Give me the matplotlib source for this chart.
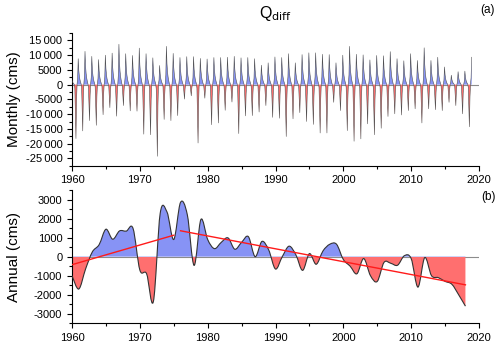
import numpy as np
import matplotlib
matplotlib.use("Agg")
import matplotlib.pyplot as plt
from matplotlib.path import Path
from matplotlib.patches import PathPatch, Rectangle

plt.rcParams["font.family"] = ["Liberation Sans", "DejaVu Sans"]
plt.rcParams["axes.unicode_minus"] = False

years = np.arange(1960, 2019)

# monthly: yearly high-flow peak (Dec) and low-flow trough (Aug)
peak_pos = [8800, 11300, 9600, 8500, 10000, 10700, 13700, 10500, 9900, 12400,
            10500, 9100, 6500, 13000, 10600, 9200, 9500, 9500, 8900, 8700,
            9200, 9200, 9300, 9600, 9100, 9200, 8800, 6600, 7400, 9400,
            9200, 10500, 7400, 10200, 10800, 10800, 10300, 10200, 7400, 10000,
            13000, 10300, 10100, 8400, 9900, 9800, 11200, 8800, 8100, 10500,
            8200, 12500, 8200, 9300, 6000, 3200, 4400, 4600, 9300]
peak_neg = [-18300, -15700, -12200, -13800, -10200, -7800, -10700, -7100, -8900, -9000,
            -16800, -17000, -24300, -11800, -12200, -10500, -4900, -3800, -19800, -4600,
            -13600, -13000, -8700, -5900, -16600, -10600, -10500, -9300, -7100, -11100,
            -11400, -17600, -11600, -9500, -12500, -13500, -16400, -16400, -6000, -8800,
            -15600, -19200, -18400, -13300, -17000, -14800, -10800, -9900, -10300, -8800,
            -8200, -13000, -8200, -8500, -8800, -6000, -7100, -9900, -14300]
# seasonal shape of one year (Jan..Dec), fraction of the peak / trough
decay_shape = [0.55, 0.33, 0.2, 0.11, 0.04]          # Jan-May, after previous Dec peak
low_shape = [0.06, 0.5, 1.0, 0.3]                    # Jun-Sep, of the trough
rise_shape = [0.03, 0.25, 1.0]                       # Oct-Dec

# annual values, panel (b)
annual = [-1000, -1700, -650, 250, 630, 1440, 915, 1350, 1340, 1480,
          -700, -900, -2350, 2270, 2350, 900, 2850, 2200, -460, 1950,
          900, 420, 750, 985, 390, 750, 1050, 0, 800, 350,
          -650, 0, 550, 100, -720, 160, -400, 300, 650, 650,
          -150, -500, -900, -100, -1000, -1300, -300, -350, -450, 50,
          -100, -1600, -50, -1000, -1100, -1300, -1450, -2000, -2600]

# build monthly series
t, q = [], []
for i, yr in enumerate(years):
    prev = peak_pos[i - 1] if i > 0 else peak_pos[0] * 0.3
    vals = [prev * s for s in decay_shape] + [peak_neg[i] * s for s in low_shape] \
        + [peak_pos[i] * s for s in rise_shape]
    for m, v in enumerate(vals):
        t.append(yr + m / 12)
        q.append(v)
t = np.array(t)
q = np.array(q)

blue = "#8793f5"
red = "#ff6f6f"

fig = plt.figure(figsize=(5, 3.46), dpi=100)
ax1 = fig.add_axes([0.144, 0.521, 0.814, 0.3835])
ax2 = fig.add_axes([0.144, 0.0656, 0.814, 0.3853])

ax1.axhline(0, color="#8c8c8c", lw=0.8, zorder=1)
ax1.fill_between(t, q, 0, where=q >= 0, interpolate=True, color=blue, lw=0, zorder=2)
ax1.fill_between(t, q, 0, where=q <= 0, interpolate=True, color=red, lw=0, zorder=2)
ax1.plot(t, q, color="#505050", lw=0.4, zorder=3)
ax1.set_ylim(-27500, 17500)
ax1.set_yticks(np.arange(-25000, 15001, 5000))
ax1.set_yticks(np.arange(-27500, 17501, 2500), minor=True)
ax1.set_yticklabels([("%d" % v if abs(v) < 10000 else
                      ("-" if v < 0 else "") + "%d\u2009%03d" % (abs(v) // 1000, abs(v) % 1000))
                     for v in np.arange(-25000, 15001, 5000)])
ax1.set_ylabel("Monthly (cms)", fontsize=11)

# panel (b): smooth curve through the annual values
x = years.astype(float)
y = np.array(annual, dtype=float)
verts = [(x[0], y[0])]
codes = [Path.MOVETO]
n = len(x)
for i in range(n - 1):
    p0 = max(i - 1, 0)
    p3 = min(i + 2, n - 1)
    c1 = (x[i] + (x[i + 1] - x[p0]) / 6, y[i] + (y[i + 1] - y[p0]) / 6)
    c2 = (x[i + 1] - (x[p3] - x[i]) / 6, y[i + 1] - (y[p3] - y[i]) / 6)
    verts += [c1, c2, (x[i + 1], y[i + 1])]
    codes += [Path.CURVE4] * 3
curve = Path(verts, codes)
area = Path(verts + [(x[-1], 0), (x[0], 0), (x[0], y[0])],
            codes + [Path.LINETO, Path.LINETO, Path.CLOSEPOLY])

ax2.axhline(0, color="#8c8c8c", lw=0.8, zorder=1)
for col, rect in [(blue, Rectangle((1950, 0), 80, 5000)),
                  (red, Rectangle((1950, -5000), 80, 5000))]:
    ax2.add_patch(rect)
    rect.set_visible(False)
    patch = PathPatch(area, facecolor=col, edgecolor="none", zorder=2)
    ax2.add_patch(patch)
    patch.set_clip_path(rect)
ax2.add_patch(PathPatch(curve, facecolor="none", edgecolor="#333333", lw=0.8, zorder=3))

# linear trends of the two periods
for lo, hi in [(1960, 1975), (1976, 2018)]:
    sel = (years >= lo) & (years <= hi)
    k, b = np.polyfit(years[sel], y[sel], 1)
    ax2.plot([lo, hi], [k * lo + b, k * hi + b], color="#ff1a1a", lw=1.0, zorder=4)

ax2.set_ylim(-3500, 3500)
ax2.set_yticks(np.arange(-3000, 3001, 1000))
ax2.set_yticks(np.arange(-3500, 3501, 500), minor=True)
ax2.set_ylabel("Annual (cms)", fontsize=11)

for ax in (ax1, ax2):
    ax.set_xlim(1960, 2020)
    ax.set_xticks(np.arange(1960, 2021, 10))
    ax.set_xticks(np.arange(1960, 2021, 5), minor=True)
    ax.spines["top"].set_visible(False)
    ax.spines["right"].set_visible(False)
    ax.tick_params(which="both", direction="out", labelsize=8, width=0.8)
    ax.tick_params(which="major", length=3.5)
    ax.tick_params(which="minor", length=2)
    ax.yaxis.set_label_coords(-0.125, 0.5)

fig.text(0.551, 0.962, "Q$_{\\mathrm{diff}}$", ha="center", va="center", fontsize=11.5)
fig.text(0.975, 0.972, "(a)", ha="center", va="center", fontsize=8.5)
fig.text(0.977, 0.43, "(b)", ha="center", va="center", fontsize=8.5)

fig.savefig("out.png", dpi=100)
